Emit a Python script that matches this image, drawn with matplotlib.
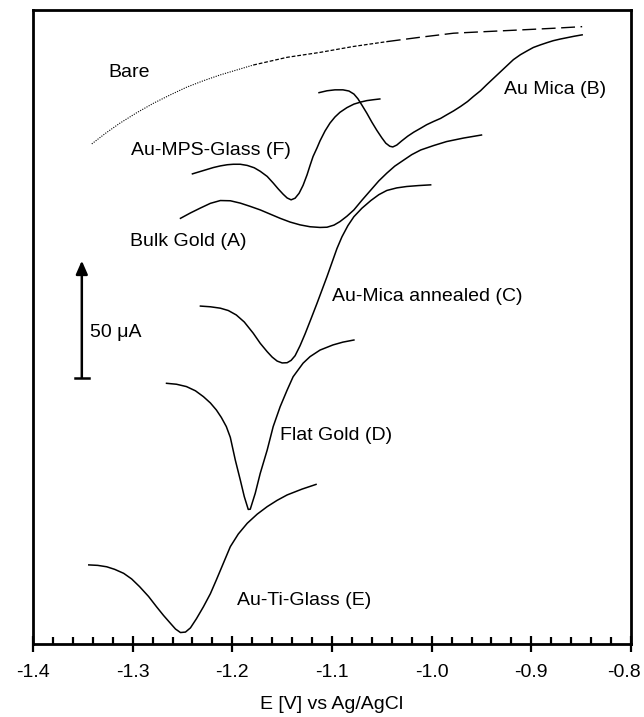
import matplotlib
matplotlib.use("Agg")
import matplotlib.pyplot as plt
import matplotlib.transforms as mtransforms
from matplotlib.ticker import MultipleLocator

plt.rcParams["font.family"] = ["Liberation Sans", "DejaVu Sans"]
plt.rcParams["font.size"] = 14

# potential (V vs Ag/AgCl) and current (uA, curves offset vertically)
bare_E = [-1.341, -1.327, -1.313, -1.296, -1.279, -1.262, -1.246, -1.229,
          -1.212, -1.179, -1.145, -1.112, -1.079, -1.045, -1.011, -0.978,
          -0.945, -0.911, -0.878, -0.849]
bare_I = [213.7, 218.3, 222.5, 227.0, 231.1, 234.7, 237.9, 240.7,
          243.2, 247.4, 250.7, 252.8, 255.3, 257.4, 259.3, 261.0,
          261.7, 262.4, 263.1, 263.8]

micaB_E = [-1.113, -1.105, -1.097, -1.089, -1.083, -1.078, -1.074, -1.070,
           -1.065, -1.060, -1.055, -1.050, -1.046, -1.042, -1.039, -1.035,
           -1.030, -1.024, -1.018, -1.011, -1.005, -0.998, -0.991, -0.985,
           -0.978, -0.971, -0.964, -0.958, -0.951, -0.945, -0.938, -0.931,
           -0.924, -0.918, -0.911, -0.904, -0.898, -0.891, -0.884, -0.878,
           -0.871, -0.864, -0.857, -0.849]
micaB_I = [235.6, 236.4, 236.8, 236.8, 236.3, 235.0, 233.0, 230.3,
           226.8, 223.0, 219.5, 216.3, 214.0, 212.7, 212.4, 213.2,
           215.0, 217.0, 218.7, 220.4, 221.9, 223.3, 224.6, 226.1,
           227.8, 229.7, 231.8, 234.0, 236.4, 238.9, 241.7, 244.5,
           247.3, 249.7, 251.8, 253.5, 254.9, 256.0, 257.0, 257.8,
           258.5, 259.1, 259.7, 260.3]

mpsF_E = [-1.240, -1.233, -1.226, -1.219, -1.212, -1.205, -1.199, -1.192,
          -1.185, -1.178, -1.172, -1.165, -1.159, -1.154, -1.149, -1.145,
          -1.141, -1.137, -1.133, -1.129, -1.125, -1.122, -1.119, -1.115,
          -1.112, -1.107, -1.102, -1.097, -1.092, -1.085, -1.078, -1.071,
          -1.065, -1.058, -1.052]
mpsF_I = [200.9, 201.8, 202.7, 203.6, 204.3, 204.8, 205.0, 205.0,
          204.5, 203.5, 202.0, 199.8, 197.0, 194.5, 192.2, 190.6,
          189.8, 190.5, 192.6, 196.0, 200.5, 204.5, 208.3, 212.0,
          215.0, 219.2, 222.6, 225.2, 227.2, 229.2, 230.7, 231.6,
          232.2, 232.6, 232.9]

bulkA_E = [-1.252, -1.242, -1.232, -1.222, -1.212, -1.202, -1.192, -1.182,
           -1.172, -1.162, -1.152, -1.142, -1.132, -1.122, -1.112, -1.105,
           -1.098, -1.092, -1.085, -1.078, -1.070, -1.061, -1.053, -1.045,
           -1.037, -1.028, -1.020, -1.011, -0.998, -0.985, -0.968, -0.950]
bulkA_I = [181.9, 184.2, 186.3, 188.3, 189.5, 189.4, 188.4, 187.0,
           185.5, 183.7, 181.9, 180.3, 179.1, 178.3, 178.0, 178.1,
           179.0, 180.5, 182.8, 185.5, 189.6, 194.0, 197.9, 201.2,
           204.2, 206.8, 209.1, 211.1, 213.0, 214.7, 216.2, 217.5]

annC_E = [-1.232, -1.222, -1.212, -1.204, -1.196, -1.188, -1.179, -1.172,
          -1.165, -1.160, -1.155, -1.150, -1.145, -1.141, -1.137, -1.132,
          -1.127, -1.121, -1.115, -1.110, -1.105, -1.100, -1.095, -1.090,
          -1.084, -1.078, -1.070, -1.061, -1.053, -1.045, -1.035, -1.025,
          -1.013, -1.001]
annC_I = [144.4, 144.1, 143.5, 142.5, 140.6, 137.6, 132.8, 128.5,
          124.9, 122.6, 120.9, 120.1, 120.2, 121.2, 123.2, 127.5,
          132.5, 139.0, 145.6, 151.3, 157.0, 163.0, 169.0, 174.0,
          178.8, 182.6, 186.2, 189.5, 192.0, 193.8, 194.9, 195.5,
          195.9, 196.2]

flatD_E = [-1.266, -1.256, -1.246, -1.237, -1.229, -1.222, -1.216, -1.211,
           -1.206, -1.202, -1.197, -1.192, -1.188, -1.184, -1.182, -1.177,
           -1.172, -1.165, -1.159, -1.152, -1.145, -1.139, -1.129, -1.122,
           -1.112, -1.099, -1.089, -1.078]
flatD_I = [111.4, 111.0, 110.0, 108.2, 105.7, 103.0, 100.0, 96.8,
           92.9, 88.3, 78.6, 70.1, 63.0, 57.5, 57.6, 64.4,
           72.9, 82.9, 92.9, 101.4, 108.5, 114.2, 120.0, 122.8,
           125.6, 127.8, 129.0, 129.9]

tiE_E = [-1.344, -1.335, -1.326, -1.318, -1.309, -1.301, -1.293, -1.284,
         -1.276, -1.269, -1.262, -1.257, -1.252, -1.247, -1.242, -1.236,
         -1.229, -1.222, -1.216, -1.209, -1.202, -1.194, -1.185, -1.175,
         -1.165, -1.155, -1.145, -1.130, -1.116]
tiE_I = [33.8, 33.6, 33.0, 31.9, 30.2, 27.8, 24.5, 20.3,
         15.9, 12.2, 8.8, 6.4, 4.9, 5.1, 6.9, 10.8,
         15.9, 21.5, 27.4, 34.5, 41.6, 47.0, 51.6, 55.5,
         58.7, 61.4, 63.7, 66.2, 68.2]

labels = ["Bare", "Au-MPS-Glass (F)", "Au Mica (B)", "Bulk Gold (A)",
          "Au-Mica annealed (C)", "Flat Gold (D)", "Au-Ti-Glass (E)"]
label_E = [-1.304, -1.221, -0.876, -1.244, -1.004, -1.096, -1.128]
label_I = [244.4, 210.7, 236.8, 171.8, 148.3, 89.3, 18.8]

fig = plt.figure(figsize=(6.44, 7.17), dpi=100)
ax = fig.add_axes([0.0512, 0.1018, 0.9286, 0.8842])

# bare electrode: sparse points drawn as dots on the steep part, dashes later
ax.plot(bare_E[:10], bare_I[:10], color="black", lw=0.8, ls=(0, (1, 1.2)))
ax.plot(bare_E[9:14], bare_I[9:14], color="black", lw=0.9, ls=(0, (3, 1.5)))
ax.plot(bare_E[13:], bare_I[13:], color="black", lw=1.0, ls=(0, (10, 4)))

for E, I in [(micaB_E, micaB_I), (mpsF_E, mpsF_I), (bulkA_E, bulkA_I),
             (annC_E, annC_I), (flatD_E, flatD_I), (tiE_E, tiE_I)]:
    ax.plot(E, I, color="black", lw=1.1, solid_joinstyle="round")

for txt, x, y in zip(labels, label_E, label_I):
    ax.text(x, y, txt, ha="center", va="center", fontsize=14)

# 50 uA scale bar
bar_x = -1.351
bar_y0 = 113.8
bar_len = 50
ax.annotate("", xy=(bar_x, bar_y0 + bar_len), xytext=(bar_x, bar_y0),
            arrowprops=dict(arrowstyle="-|>,head_width=0.35,head_length=0.8",
                            color="black", lw=1.8, shrinkA=0, shrinkB=0,
                            mutation_scale=10))
ax.plot([bar_x - 0.007, bar_x + 0.007], [bar_y0, bar_y0], color="black", lw=1.8)
ax.text(-1.3428, 132.9, "50 \u03bcA", ha="left", va="center", fontsize=14)

ax.set_xlim(-1.4, -0.8)
ax.set_ylim(0, 270.9)
ax.xaxis.set_minor_locator(MultipleLocator(0.02))
ax.set_xticks([-1.4, -1.3, -1.2, -1.1, -1.0, -0.9, -0.8])
ax.set_xticklabels(["-1.4", "-1.3", "-1.2", "-1.1", "-1.0", "-0.9", "-0.8"])
ax.set_yticks([])
ax.tick_params(axis="x", which="major", direction="inout", length=11,
               width=1.6, pad=9, labelsize=14)
ax.tick_params(axis="x", which="minor", direction="in", length=5, width=1.6)
for sp in ax.spines.values():
    sp.set_linewidth(2.0)
ax.set_xlabel("E [V] vs Ag/AgCl", fontsize=14, labelpad=11)

# keep the last tick label inside the figure
last = ax.get_xticklabels()[-1]
last.set_transform(last.get_transform() +
                   mtransforms.ScaledTranslation(-5 / 72, 0, fig.dpi_scale_trans))

fig.savefig("out.png", dpi=100)
